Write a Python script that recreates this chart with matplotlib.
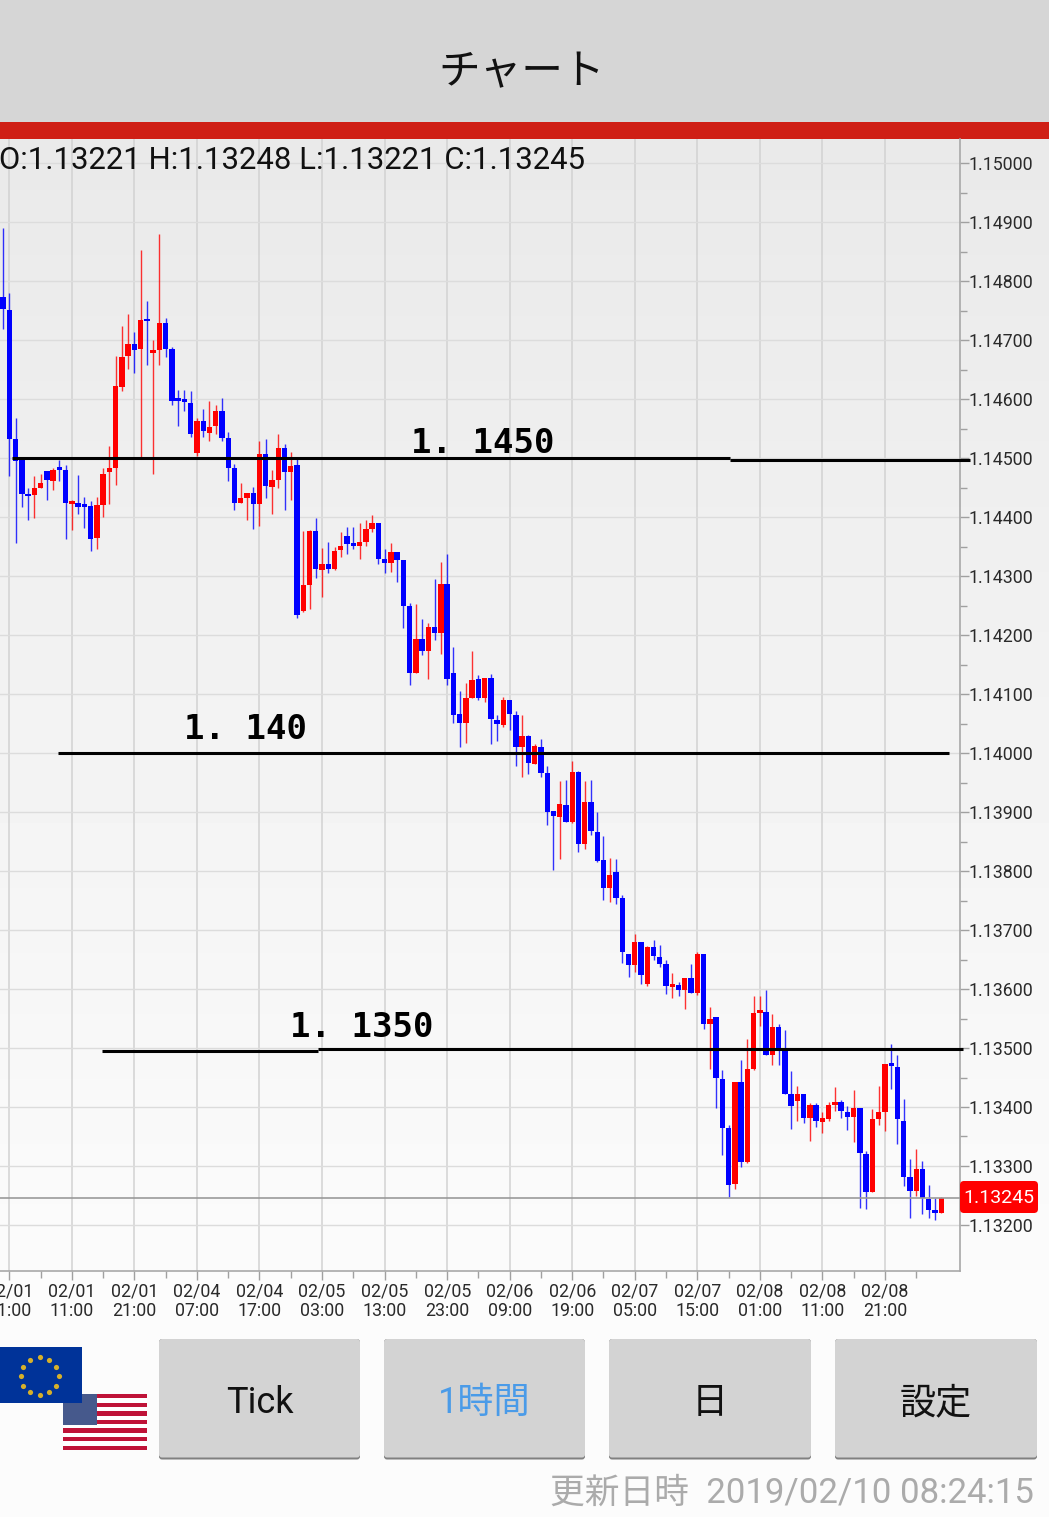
import numpy as np
import matplotlib
matplotlib.use("Agg")
import matplotlib.pyplot as plt
from matplotlib.patches import FancyBboxPatch, Rectangle
from matplotlib.ticker import FixedLocator, FixedFormatter

plt.rcParams["font.family"] = ["Roboto", "Noto Sans CJK JP", "DejaVu Sans"]

W, H = 1049, 1517

# hourly EUR/USD candles, prices in 1e-5 units
opens = [
    114773, 114751, 114532, 114498, 114438, 114438, 114449, 114479, 114461, 114482,
    114481, 114423, 114424, 114420, 114420, 114365, 114421, 114477, 114483, 114621,
    114673, 114694, 114686, 114735, 114679, 114684, 114729, 114685, 114601, 114599,
    114593, 114509, 114563, 114543, 114555, 114580, 114535, 114484, 114424, 114433,
    114441, 114423, 114507, 114451, 114464, 114517, 114477, 114488,
    114241, 114285, 114376, 114311, 114321, 114312, 114345, 114369, 114356, 114351,
    114358, 114381, 114390, 114329, 114322, 114341, 114328, 114249, 114136, 114193,
    114173, 114214, 114204, 114287, 114136, 114067, 114052, 114094, 114126, 114094,
    114128, 114057, 114047, 114090, 114065, 114011, 114029, 113982, 114011, 113966,
    113902, 113891, 113912, 113883, 113968, 113846, 113917, 113867, 113819, 113771,
    113799, 113754, 113660, 113641, 113680, 113609, 113671, 113655, 113643, 113604,
    113607, 113598, 113618, 113594, 113660, 113541, 113553, 113448, 113364, 113269,
    113442, 113307, 113465, 113560, 113561, 113489, 113536, 113496, 113422, 113411,
    113422, 113381, 113403, 113374, 113379, 113403, 113409, 113392, 113383, 113399,
    113321, 113256, 113380, 113391, 113474, 113467, 113376, 113282, 113257, 113295,
    113244, 113225, 113221,
]
highs = [
    114890, 114781, 114568, 114500, 114449, 114470, 114474, 114479, 114483, 114497,
    114489, 114430, 114471, 114434, 114427, 114435, 114484, 114521, 114674, 114725,
    114745, 114715, 114854, 114767, 114700, 114880, 114738, 114689, 114616, 114616,
    114615, 114568, 114583, 114598, 114590, 114603, 114545, 114490, 114459, 114442,
    114451, 114530, 114532, 114481, 114542, 114525, 114511, 114503,
    114376, 114378, 114399, 114348, 114358, 114349, 114375, 114384, 114384, 114390,
    114395, 114404, 114390, 114346, 114356, 114341, 114328, 114255, 114253, 114227,
    114220, 114295, 114324, 114338, 114180, 114105, 114119, 114173, 114133, 114128,
    114134, 114064, 114095, 114090, 114072, 114064, 114031, 114016, 114024, 113979,
    113902, 113952, 113955, 113986, 113969, 113952, 113954, 113901, 113860, 113823,
    113820, 113759, 113660, 113693, 113680, 113673, 113683, 113675, 113650, 113627,
    113612, 113618, 113643, 113663, 113660, 113569, 113553, 113462, 113369, 113442,
    113480, 113516, 113589, 113589, 113599, 113557, 113540, 113531, 113461, 113435,
    113422, 113407, 113407, 113391, 113408, 113434, 113412, 113402, 113429, 113399,
    113325, 113397, 113435, 113473, 113506, 113488, 113413, 113311, 113328, 113308,
    113267, 113245, 113248,
]
lows = [
    114720, 114470, 114357, 114418, 114395, 114398, 114449, 114429, 114447, 114462,
    114364, 114379, 114405, 114382, 114343, 114347, 114400, 114423, 114455, 114615,
    114651, 114645, 114501, 114659, 114474, 114659, 114672, 114591, 114555, 114580,
    114537, 114504, 114537, 114529, 114541, 114529, 114461, 114413, 114424, 114395,
    114381, 114385, 114433, 114405, 114450, 114413, 114429, 114229,
    114240, 114244, 114297, 114265, 114305, 114311, 114333, 114337, 114346, 114330,
    114352, 114375, 114321, 114305, 114308, 114290, 114212, 114115, 114136, 114166,
    114125, 114192, 114168, 114115, 114051, 114011, 114018, 114094, 114090, 114087,
    114015, 114021, 114044, 114039, 113978, 113960, 113964, 113981, 113960, 113878,
    113802, 113821, 113883, 113882, 113832, 113838, 113861, 113815, 113751, 113748,
    113745, 113644, 113621, 113629, 113608, 113606, 113650, 113637, 113592, 113584,
    113589, 113566, 113594, 113590, 113533, 113465, 113399, 113318, 113247, 113261,
    113298, 113305, 113463, 113537, 113489, 113471, 113472, 113422, 113363, 113376,
    113373, 113342, 113366, 113356, 113377, 113393, 113382, 113361, 113340, 113229,
    113227, 113256, 113370, 113360, 113431, 113338, 113266, 113211, 113249, 113218,
    113212, 113209, 113221,
]
closes = [
    114753, 114532, 114496, 114440, 114436, 114449, 114459, 114463, 114481, 114481,
    114425, 114426, 114418, 114418, 114364, 114421, 114474, 114484, 114622, 114672,
    114694, 114684, 114735, 114733, 114684, 114729, 114686, 114598, 114598, 114596,
    114542, 114563, 114546, 114553, 114580, 114534, 114484, 114425, 114432, 114441,
    114423, 114507, 114453, 114464, 114517, 114477, 114487, 114235,
    114285, 114376, 114313, 114321, 114313, 114343, 114352, 114355, 114351, 114358,
    114381, 114390, 114330, 114322, 114341, 114328, 114249, 114136, 114194, 114173,
    114214, 114204, 114287, 114125, 114064, 114051, 114094, 114124, 114094, 114128,
    114058, 114050, 114090, 114066, 114011, 114029, 113983, 114012, 113967, 113901,
    113893, 113913, 113883, 113968, 113846, 113917, 113868, 113818, 113771, 113793,
    113755, 113662, 113641, 113680, 113624, 113672, 113656, 113642, 113606, 113607,
    113598, 113618, 113594, 113660, 113541, 113550, 113450, 113365, 113268, 113442,
    113307, 113465, 113559, 113561, 113489, 113536, 113496, 113422, 113401, 113422,
    113381, 113403, 113376, 113381, 113404, 113409, 113393, 113383, 113399, 113322,
    113256, 113379, 113391, 113473, 113469, 113380, 113282, 113257, 113295, 113246,
    113226, 113221, 113245,
]

time_labels = [
    "02/01\n01:00", "02/01\n11:00", "02/01\n21:00", "02/04\n07:00", "02/04\n17:00",
    "02/05\n03:00", "02/05\n13:00", "02/05\n23:00", "02/06\n09:00", "02/06\n19:00",
    "02/07\n05:00", "02/07\n15:00", "02/08\n01:00", "02/08\n11:00", "02/08\n21:00",
]
price_ticks = [1.132 + 0.001 * n for n in range(19)]
drawn_labels = ["1. 1450", "1. 140", "1. 1350"]
drawn_anchor = [1.1450, 1.1400, 1.1350]
button_labels = ["Tick", "1時間", "日", "設定"]

o = np.array(opens) / 1e5
h = np.array(highs) / 1e5
l = np.array(lows) / 1e5
c = np.array(closes) / 1e5
xs = np.arange(len(o))
up = c >= o
col = np.where(up, "#ff0000", "#0000ff")

fig = plt.figure(figsize=(W / 100, H / 100), dpi=100, facecolor="#fcfcfc")

# app chrome, in screen pixels
ui = fig.add_axes([0, 0, 1, 1], zorder=0)
ui.axis("off")
grad = np.linspace(0.915, 0.988, 256).reshape(-1, 1)
ui.imshow(grad, cmap="gray", vmin=0, vmax=1, extent=[0, W, 1330, 139], aspect="auto", zorder=0)
ui.set_xlim(0, W)
ui.set_ylim(H, 0)
ui.add_patch(Rectangle((0, 0), W, 122, fc="#d6d6d6", ec="none", zorder=1))
ui.add_patch(Rectangle((0, 122), W, 17, fc="#cf1f15", ec="none", zorder=1))
ui.text(522, 73, "チャート", fontsize=30, ha="center", va="center", color="#111111",
        family=["Noto Sans CJK JP", "DejaVu Sans"])

# flags
ui.add_patch(Rectangle((62.5, 1394), 84.5, 56, fc="white", ec="none", zorder=2))
for s in range(7):
    ui.add_patch(Rectangle((62.5, 1394 + s * 56 / 6.5), 84.5, 56 / 13, fc="#bf1338", ec="none", zorder=2))
ui.add_patch(Rectangle((62.5, 1394), 34.5, 30.5, fc="#46598c", ec="none", zorder=3))
ui.add_patch(Rectangle((0, 1347), 82, 56, fc="#003399", ec="none", zorder=4))
ang = np.linspace(0, 2 * np.pi, 12, endpoint=False)
ui.scatter(39.5 + 19 * np.cos(ang), 1376 + 19 * np.sin(ang), s=14, marker="o", color="#d6b02a", lw=0, zorder=5)

# buttons
for (x0, x1), lab in zip([(159, 360), (384, 585), (609, 811), (835, 1037)], button_labels):
    ui.add_patch(FancyBboxPatch((x0, 1339), x1 - x0, 120.5, boxstyle="round,pad=0,rounding_size=3",
                                fc="#808080", ec="none", zorder=2))
    ui.add_patch(FancyBboxPatch((x0, 1339), x1 - x0, 118.5, boxstyle="round,pad=0,rounding_size=3",
                                fc="#d3d3d3", ec="none", zorder=3))
    tc = "#4a9be8" if lab == "1時間" else "#111111"
    ui.text((x0 + x1) / 2, 1403, lab, fontsize=26, ha="center", va="center", color=tc, zorder=4)
ui.text(1034, 1493, "更新日時  2019/02/10 08:24:15", fontsize=25, ha="right", va="center", color="#ababab")

# chart
ax = fig.add_axes([0, 1 - 1271 / H, 960 / W, (1271 - 139) / H], zorder=1)
ax.patch.set_alpha(0)
ax.set_xlim(-0.488, 153.0)
ax.set_ylim(1.131219, 1.150415)

major_x = np.arange(1, 151, 10)
minor_x = major_x + 5
ax.xaxis.set_major_locator(FixedLocator(major_x))
ax.xaxis.set_major_formatter(FixedFormatter(time_labels))
ax.xaxis.set_minor_locator(FixedLocator(minor_x))
ax.yaxis.tick_right()
ax.yaxis.set_major_locator(FixedLocator(price_ticks))
ax.yaxis.set_major_formatter(FixedFormatter([f"{p:.5f}" for p in price_ticks]))
ax.yaxis.set_minor_locator(FixedLocator([p + 0.0005 for p in price_ticks]))
ax.tick_params(axis="both", which="major", length=6.8, width=1.0, color="#a0a0a0",
               labelsize=12.8, labelcolor="#2a2a2a")
ax.tick_params(axis="both", which="minor", length=5, width=1.0, color="#a0a0a0")
ax.tick_params(axis="x", which="major", pad=1.5)
ax.tick_params(axis="y", which="major", pad=-1)
for lab in ax.get_xticklabels():
    lab.set_linespacing(1.1)
for side in ["left", "top"]:
    ax.spines[side].set_visible(False)
for side in ["right", "bottom"]:
    ax.spines[side].set_color("#a8a8a8")
    ax.spines[side].set_linewidth(1.2)
ax.grid(True, axis="x", which="major", color="#d2d2d2", lw=1.1, zorder=1)
ax.grid(True, axis="y", which="major", color="#dcdcdc", lw=1.0, zorder=1)
ax.set_axisbelow(True)

ax.vlines(xs, l, h, colors=col, lw=1.0, alpha=0.8, zorder=3)
ax.bar(xs, np.maximum(np.abs(c - o), 0.00004), bottom=np.minimum(o, c), width=0.86,
       color=col, lw=0, zorder=4)

# last price line
last = c[-1]
ax.axhline(last, color="#9a9a9a", lw=1.2, zorder=5)

# OHLC readout and price tag sit on top of the chart
ohlc_text = f"O:{o[-1]:.5f} H:{h[-1]:.5f} L:{l[-1]:.5f} C:{c[-1]:.5f}"
ui_top = fig.add_axes([0, 0, 1, 1], zorder=2)
ui_top.set_xlim(0, W)
ui_top.set_ylim(H, 0)
ui_top.axis("off")
ui_top.text(-1, 160, ohlc_text, fontsize=22.4, ha="left", va="center", color="#111111")
ui_top.add_patch(FancyBboxPatch((960, 1181), 78, 32, boxstyle="round,pad=0,rounding_size=4",
                                fc="#ff0000", ec="none"))
ui_top.text(999, 1198, f"{last:.5f}", fontsize=14, color="white", ha="center", va="center")

# levels drawn by hand on the screenshot, each stroke (x from, x to, price)
strokes = [
    (12, 730, 1.14501), (730, 970, 1.14498),
    (58, 949, 1.14000),
    (102, 318, 1.13495), (318, 963, 1.13498),
]
label_centres = [483, 246, 362]
label_raise = [4, 10, 8]
for x0, x1, lev in strokes:
    ax.plot([x0 / 960, x1 / 960], [lev, lev], transform=ax.get_yaxis_transform(), color="black",
            lw=2.2, clip_on=False, zorder=7, solid_capstyle="butt")
for lab, lev, xc, dy in zip(drawn_labels, drawn_anchor, label_centres, label_raise):
    ax.annotate(lab, xy=(xc / 960, lev), xycoords=ax.get_yaxis_transform(), xytext=(0, dy),
                textcoords="offset points", ha="center", va="baseline", fontsize=24.5, fontweight="bold",
                family="DejaVu Sans Mono", color="black", zorder=7)

fig.savefig("out.png", dpi=100, facecolor=fig.get_facecolor())
plt.close(fig)
